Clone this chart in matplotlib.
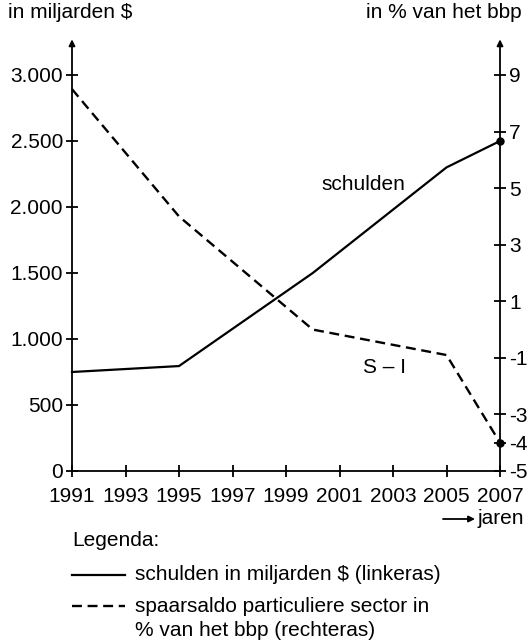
import matplotlib
matplotlib.use('Agg')
import matplotlib.pyplot as plt
from matplotlib.lines import Line2D

plt.rcParams['font.family'] = ['Liberation Sans', 'DejaVu Sans']
plt.rcParams['font.size'] = 15

# Gegevens
jaren = [1991, 1995, 2000, 2005, 2007]
schulden = [750, 795, 1500, 2300, 2500]          # miljarden $
spaarsaldo = [8.5, 4.0, 0.0, -0.9, -4.0]         # % van het bbp

x_ticks = list(range(1991, 2008, 2))
links_ticks = [0, 500, 1000, 1500, 2000, 2500, 3000]
links_labels = ['0', '500', '1.000', '1.500', '2.000', '2.500', '3.000']
rechts_ticks = [9, 7, 5, 3, 1, -1, -3, -4, -5]
rechts_labels = ['9', '7', '5', '3', '1', '-1', '-3', '-4', '-5']

W, H = 528, 640


def fx(px):
    return px / W


def fy(py):
    return 1 - py / H


fig = plt.figure(figsize=(W / 100, H / 100), dpi=100)
ax = fig.add_axes([fx(72), fy(471), fx(500) - fx(72), fy(75) - fy(471)])
ax2 = ax.twinx()

lw_as = 1.3
dash = (0, (4.2, 2.4))

# lijnen
ax.plot(jaren, schulden, color='black', lw=1.6, solid_joinstyle='miter', clip_on=False)
ax2.plot(jaren, spaarsaldo, color='black', lw=1.7, linestyle=dash, clip_on=False)
ax.plot(jaren[-1], schulden[-1], 'o', color='black', ms=5, clip_on=False, zorder=5)
ax2.plot(jaren[-1], spaarsaldo[-1], 'o', color='black', ms=5, clip_on=False, zorder=5)

ax.set_xlim(1991, 2007)
ax.set_ylim(0, 3000)
ax2.set_ylim(-5, 9)

ax.set_xticks(x_ticks)
ax.set_xticklabels([str(j) for j in x_ticks])
ax.set_yticks(links_ticks)
ax.set_yticklabels(links_labels)
ax2.set_yticks(rechts_ticks)
ax2.set_yticklabels(rechts_labels)

for a in (ax, ax2):
    a.spines['top'].set_visible(False)
    for s in a.spines.values():
        s.set_linewidth(lw_as)
    a.tick_params(direction='inout', length=9, width=lw_as, pad=2, labelsize=15)
ax.tick_params(axis='x', pad=7)
ax2.spines['left'].set_visible(False)
ax2.spines['bottom'].set_visible(False)
ax.spines['right'].set_visible(False)

# pijlen op de assen
pijl = dict(arrowstyle='-|>', lw=lw_as, color='black', mutation_scale=9, shrinkA=0, shrinkB=0)
ax.annotate('', xy=(0, 1.09), xytext=(0, 1.0), xycoords='axes fraction',
            arrowprops=pijl, annotation_clip=False)
ax.annotate('', xy=(1, 1.09), xytext=(1, 1.0), xycoords='axes fraction',
            arrowprops=pijl, annotation_clip=False)
fig.add_artist(matplotlib.patches.FancyArrowPatch((fx(443), fy(519)), (fx(475), fy(519)),
                                                   transform=fig.transFigure, **pijl))

# teksten
fig.text(fx(8), fy(13), 'in miljarden $', ha='left', va='center')
fig.text(fx(522), fy(13), 'in % van het bbp', ha='right', va='center')
fig.text(fx(478), fy(518), 'jaren', ha='left', va='center')
ax.text(2001.9, 2167, 'schulden', ha='center', va='center')
ax2.text(2002.7, -1.35, 'S \u2013 I', ha='center', va='center')

# legenda
fig.text(fx(72), fy(541), 'Legenda:', ha='left', va='center')
fig.add_artist(Line2D([fx(72), fx(125)], [fy(575), fy(575)], color='black', lw=1.6,
                      transform=fig.transFigure))
fig.text(fx(135), fy(575), 'schulden in miljarden $ (linkeras)', ha='left', va='center')
fig.add_artist(Line2D([fx(72), fx(125)], [fy(606), fy(606)], color='black', lw=1.7,
                      linestyle=dash, transform=fig.transFigure))
fig.text(fx(135), fy(606), 'spaarsaldo particuliere sector in', ha='left', va='center')
fig.text(fx(135), fy(630), '% van het bbp (rechteras)', ha='left', va='center')

fig.savefig('out.png', dpi=100)
